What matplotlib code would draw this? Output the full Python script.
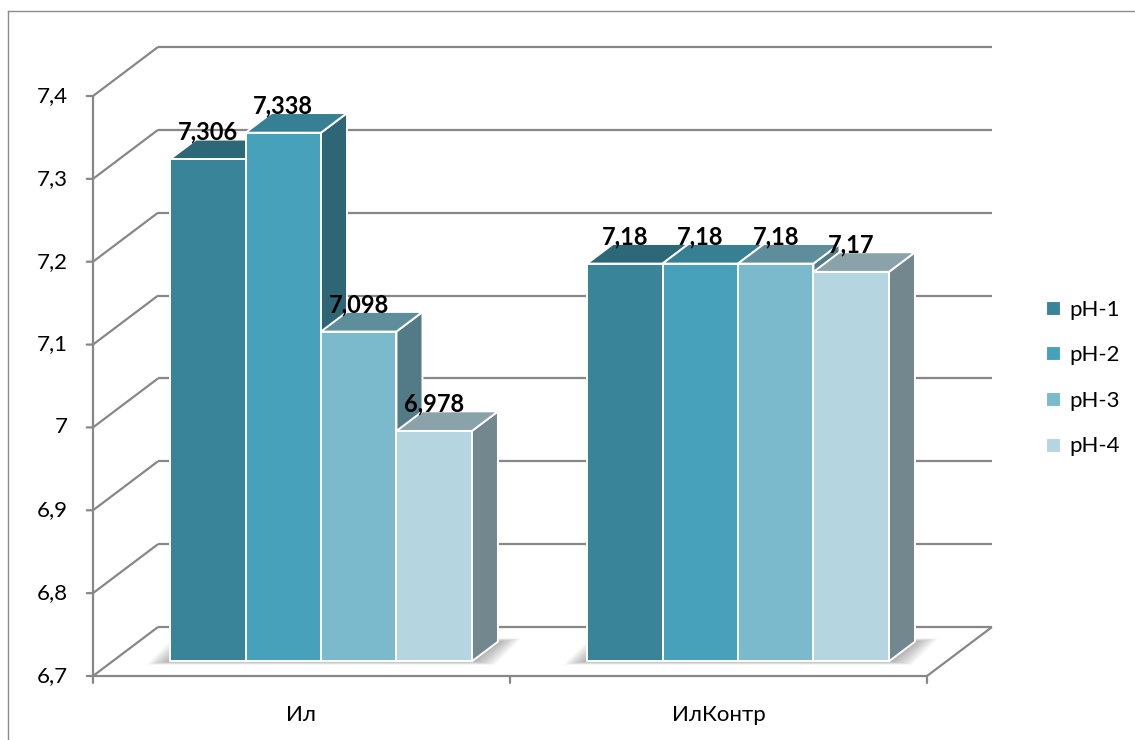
import matplotlib.pyplot as plt
from matplotlib.patches import Polygon
from matplotlib.lines import Line2D

# pH values per sample
categories = ["Ил", "ИлКонтр"]
series = ["pH-1", "pH-2", "pH-3", "pH-4"]
ph1 = [7.306, 7.18]
ph2 = [7.338, 7.18]
ph3 = [7.098, 7.18]
ph4 = [6.978, 7.17]
yticks = [6.7, 6.8, 6.9, 7.0, 7.1, 7.2, 7.3, 7.4]

front_colors = ["#3a8499", "#48a1ba", "#7bbacd", "#b5d5e0"]
top_colors = ["#2d6878", "#377f93", "#5e8d9b", "#8aa3ab"]
side_colors = ["#2b6272", "#2e6676", "#527a87", "#72878e"]
grid_color = "#878787"

plt.rcParams["font.family"] = ["Lato", "DejaVu Sans"]

W, H = 1135, 740
fig = plt.figure(figsize=(W / 100, H / 100), dpi=100)
ax = fig.add_axes([93 / W, 64 / H, 834 / W, 580 / H])
ymin, ymax = 6.7, 7.4
ax.set_xlim(0, 2)
ax.set_ylim(ymin, ymax)
ax.axis("off")

# pseudo-3D depth: full floor depth offset in data units
DX = 65 / 417
DY = 49 / 828.6
d0 = 0.30     # depth where the bar fronts sit
th = 0.40     # bar thickness in depth
pad = 0.138
bw = (1 - 2 * pad) / 4


def line(xs, ys, **kw):
    ax.add_line(Line2D(xs, ys, color=grid_color, lw=1.6, clip_on=False,
                       solid_capstyle="butt", zorder=1, **kw))


def fmt(v):
    return f"{v:g}".replace(".", ",")


# walls, gridlines and axes
for v in yticks:
    line([0, DX], [v, v + DY])
    line([DX, 2 + DX], [v + DY, v + DY])
    ax.annotate(fmt(v), (0, v), xytext=(-18, 0), textcoords="offset points",
                ha="right", va="center", fontsize=16, annotation_clip=False)
    ax.annotate("", (0, v), xytext=(-4.5, 0), textcoords="offset points",
                arrowprops=dict(arrowstyle="-", color=grid_color, lw=1.6,
                                shrinkA=0, shrinkB=0), annotation_clip=False)
line([0, 0], [ymin, ymax])
line([0, 2], [ymin, ymin])
line([2, 2 + DX], [ymin, ymin + DY])
for i in range(3):
    ax.annotate("", (i, ymin), xytext=(0, -5), textcoords="offset points",
                arrowprops=dict(arrowstyle="-", color=grid_color, lw=1.6,
                                shrinkA=0, shrinkB=0), annotation_clip=False)
for i, c in enumerate(categories):
    ax.annotate(c, (i + 0.5, ymin), xytext=(0, -28), textcoords="offset points",
                ha="center", va="center", fontsize=16, annotation_clip=False)


def face(pts, color, z=3, **kw):
    ax.add_patch(Polygon(pts, closed=True, facecolor=color, clip_on=False,
                         zorder=z, **kw))


data = [ph1, ph2, ph3, ph4]
ddx, ddy = th * DX, th * DY
yb = ymin + d0 * DY

for i in range(len(categories)):
    # soft shadow on the floor around each group's footprint
    xl = i + pad + d0 * DX
    xr = xl + 4 * bw
    n = 10
    for k in range(n):
        e = 0.055 * (n - k) / n
        f = 0.004 * (n - k) / n
        face([(xl - e, yb - f), (xr + e, yb - f),
              (xr + ddx + e, yb + ddy + f), (xl + ddx - e, yb + ddy + f)],
             "#505050", z=2, alpha=0.05, lw=0)

    for j in range(4):
        v = data[j][i]
        x0 = i + pad + j * bw + d0 * DX
        x1 = x0 + bw
        yt = v + d0 * DY
        ekw = dict(edgecolor="white", lw=1.4, joinstyle="round")
        face([(x1, yb), (x1 + ddx, yb + ddy), (x1 + ddx, yt + ddy), (x1, yt)],
             side_colors[j], **ekw)
        face([(x0, yt), (x1, yt), (x1 + ddx, yt + ddy), (x0 + ddx, yt + ddy)],
             top_colors[j], **ekw)
        face([(x0, yb), (x1, yb), (x1, yt), (x0, yt)], front_colors[j], **ekw)
        ax.annotate(fmt(v), ((x0 + x1) / 2, yt), xytext=(0, 19.5),
                    textcoords="offset points", ha="center", va="center",
                    fontsize=17, fontweight="bold", zorder=10,
                    annotation_clip=False)

handles = [Line2D([], [], marker="s", ls="", markersize=10,
                  markerfacecolor=front_colors[j], markeredgecolor="white",
                  markeredgewidth=0.8) for j in range(4)]
fig.legend(handles, series, loc="center left",
           bbox_to_anchor=(1033 / W, 1 - 378 / H), frameon=False,
           fontsize=16, handlelength=0.8, handletextpad=0.35,
           labelspacing=1.15, borderpad=0)

# outer chart border
fig.add_artist(Line2D([8 / W, 1], [1 - 11 / H, 1 - 11 / H],
                      color="#8c8c8c", lw=1.0))
fig.add_artist(Line2D([8 / W, 8 / W], [0, 1 - 11 / H],
                      color="#8c8c8c", lw=1.0))

fig.savefig("out.png", dpi=100, facecolor="white")
